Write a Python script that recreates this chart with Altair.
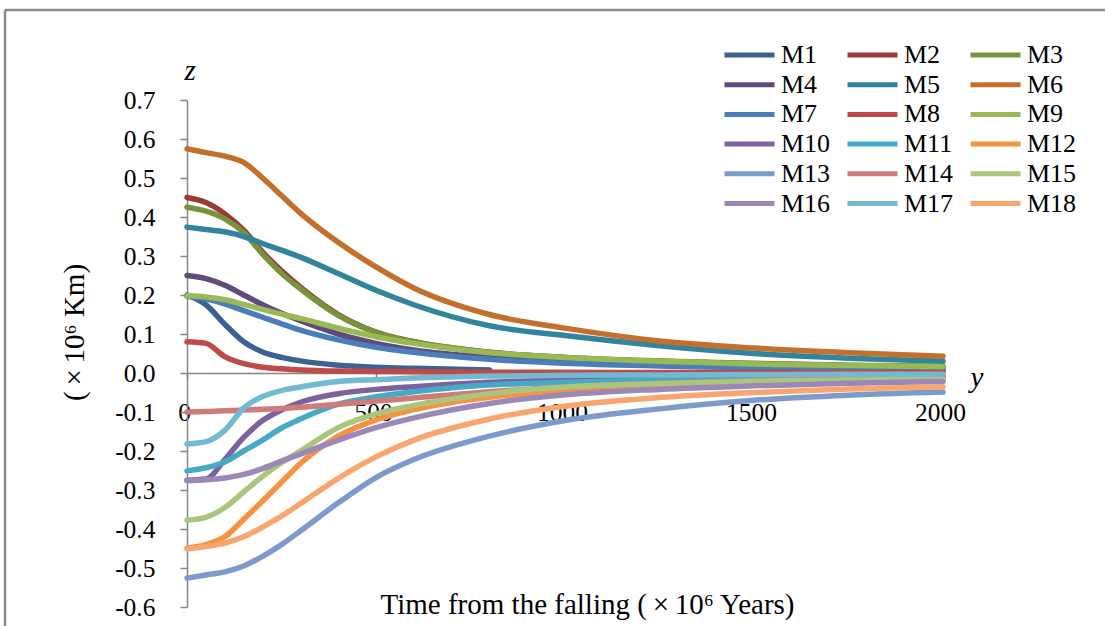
import altair as alt
import pandas as pd

# ---- data ----
X_YEARS = [0, 50, 100, 150, 200, 250, 300, 400, 500, 600, 800, 1000, 1250, 1500, 1750, 2000]

NAMES = ["M1", "M2", "M3", "M4", "M5", "M6", "M7", "M8", "M9",
         "M10", "M11", "M12", "M13", "M14", "M15", "M16", "M17", "M18"]

M1 = [0.200, 0.175, 0.125, 0.080, 0.054, 0.040, 0.031, 0.020, 0.015, 0.012, 0.008, None, None, None, None, None]
M2 = [0.450, 0.437, 0.408, 0.366, 0.310, 0.262, 0.220, 0.150, 0.105, 0.080, 0.053, 0.040, 0.030, 0.024, 0.019, 0.016]
M3 = [0.425, 0.415, 0.395, 0.360, 0.305, 0.256, 0.216, 0.148, 0.104, 0.080, 0.053, 0.040, 0.031, 0.025, 0.020, 0.017]
M4 = [0.250, 0.242, 0.225, 0.200, 0.175, 0.153, 0.134, 0.100, 0.076, 0.059, 0.040, 0.030, 0.022, 0.017, 0.014, 0.012]
M5 = [0.374, 0.368, 0.362, 0.350, 0.332, 0.315, 0.297, 0.255, 0.212, 0.175, 0.121, 0.096, 0.070, 0.050, 0.038, 0.030]
M6 = [0.575, 0.565, 0.556, 0.540, 0.500, 0.455, 0.410, 0.335, 0.272, 0.218, 0.150, 0.115, 0.082, 0.064, 0.052, 0.043]
M7 = [0.197, 0.190, 0.177, 0.160, 0.143, 0.126, 0.110, 0.085, 0.066, 0.053, 0.035, 0.025, 0.018, 0.013, 0.010, 0.008]
M8 = [0.080, 0.076, 0.042, 0.024, 0.015, 0.011, 0.008, 0.005, 0.004, 0.003, 0.002, 0.002, 0.001, 0.001, 0.001, 0.001]
M9 = [0.198, 0.195, 0.188, 0.176, 0.163, 0.151, 0.140, 0.115, 0.093, 0.076, 0.052, 0.040, 0.030, 0.023, 0.019, 0.016]
M10 = [-0.275, -0.272, -0.222, -0.165, -0.122, -0.095, -0.075, -0.053, -0.042, -0.035, -0.024, -0.017, -0.012, -0.009, -0.007, -0.006]
M11 = [-0.251, -0.243, -0.228, -0.200, -0.172, -0.141, -0.118, -0.080, -0.061, -0.048, -0.031, -0.024, -0.018, -0.014, -0.012, -0.010]
M12 = [-0.449, -0.440, -0.420, -0.375, -0.328, -0.280, -0.232, -0.162, -0.120, -0.094, -0.062, -0.047, -0.036, -0.028, -0.022, -0.018]
M13 = [-0.526, -0.518, -0.510, -0.495, -0.470, -0.440, -0.405, -0.333, -0.268, -0.222, -0.162, -0.122, -0.092, -0.070, -0.057, -0.049]
M14 = [-0.100, -0.099, -0.097, -0.095, -0.093, -0.091, -0.088, -0.080, -0.072, -0.064, -0.048, -0.036, -0.026, -0.019, -0.015, -0.012]
M15 = [-0.377, -0.370, -0.345, -0.305, -0.265, -0.230, -0.200, -0.140, -0.105, -0.083, -0.053, -0.036, -0.027, -0.021, -0.018, -0.016]
M16 = [-0.276, -0.274, -0.269, -0.260, -0.245, -0.226, -0.208, -0.172, -0.140, -0.115, -0.078, -0.056, -0.042, -0.033, -0.026, -0.022]
M17 = [-0.182, -0.176, -0.147, -0.090, -0.060, -0.045, -0.036, -0.022, -0.017, -0.013, -0.008, -0.006, -0.005, -0.004, -0.003, -0.003]
M18 = [-0.451, -0.445, -0.436, -0.420, -0.395, -0.367, -0.335, -0.270, -0.215, -0.172, -0.118, -0.085, -0.063, -0.050, -0.041, -0.035]

SERIES = [M1, M2, M3, M4, M5, M6, M7, M8, M9, M10, M11, M12, M13, M14, M15, M16, M17, M18]

COLORS = ["#3C6294", "#983A37", "#77933C", "#604A7B", "#31849B", "#C3702D",
          "#4A7DBA", "#BE4B48", "#98B954", "#7D60A0", "#46AAC5", "#F69240",
          "#7C9BCB", "#CF7B79", "#AAC57D", "#9B88B7", "#73B9D1", "#F8A56F"]

Y_TICKS = [-0.6, -0.5, -0.4, -0.3, -0.2, -0.1, 0.0, 0.1, 0.2, 0.3, 0.4, 0.5, 0.6, 0.7]
X_TICKS = [0, 500, 1000, 1500, 2000]

AXIS_LETTERS = ["z", "y"]
LETTER_X = [8, 2090]
LETTER_Y = [0.752, -0.036]

X_TITLE = "Time from the falling (\u2009×\u200910⁶ Years)"
Y_TITLE = "(\u2009×\u200910⁶ Km)"

# ---- long table ----
rows = []
for name, vals in zip(NAMES, SERIES):
    for xv, yv in zip(X_YEARS, vals):
        if yv is not None:
            rows.append({"series": name, "t": xv, "v": yv})
df = pd.DataFrame(rows)

W, H = 756, 507
FONT = "Liberation Serif"
GRAY = "#868686"
LBL = 25.5
TTL = 29

xscale = alt.Scale(domain=[0, 2000], nice=False)
yscale = alt.Scale(domain=[-0.6, 0.7], nice=False)
cscale = alt.Scale(domain=NAMES, range=COLORS)

x_axis = alt.Axis(
    values=X_TICKS, format="d", grid=False, offset=-234,
    domainColor=GRAY, domainWidth=1.5, tickColor=GRAY, tickWidth=1.5, tickSize=6,
    labelFont=FONT, labelFontSize=LBL, labelColor="black", labelPadding=21, labelOffset=-3,
    labelFlush=False, labelOverlap=False,
    title=X_TITLE, titleFont=FONT, titleFontSize=TTL,
    titleFontWeight="normal", titleColor="black",
    titleX=400, titleY=231, titleAlign="center", titleBaseline="middle", titleAnchor="start",
)
y_axis = alt.Axis(
    values=Y_TICKS, grid=False,
    labelExpr="(datum.value < -0.00001 ? '-' : '') + format(abs(datum.value), '.1f')",
    domainColor=GRAY, domainWidth=1.5, tickColor=GRAY, tickWidth=1.5, tickSize=7,
    labelFont=FONT, labelFontSize=LBL, labelColor="black", labelPadding=25,
    labelFlush=False, labelOverlap=False,
    title=Y_TITLE, titleFont=FONT, titleFontSize=TTL, titleFontWeight="normal",
    titleColor="black", titleX=-113, titleY=232, titleAngle=270,
    titleAlign="center", titleBaseline="middle", titleAnchor="start",
)

legend = alt.Legend(
    title=None, orient="none", legendX=535, legendY=-59.5, columns=3, direction="horizontal",
    symbolType="stroke", symbolSize=2500, symbolStrokeWidth=5,
    labelFont=FONT, labelFontSize=26, labelColor="black", labelOffset=4,
    clipHeight=29, rowPadding=0.7, columnPadding=14, padding=0,
    labelLimit=200,
)

X_ENC = alt.X("t:Q", scale=xscale, axis=x_axis)
Y_ENC = alt.Y("v:Q", scale=yscale, axis=y_axis)

base = alt.Chart(df).mark_line(strokeWidth=5.5, interpolate="monotone", strokeCap="round").encode(
    x=X_ENC,
    y=Y_ENC,
    color=alt.Color("series:N", scale=cscale, legend=legend, sort=NAMES),
)

layers = [base.transform_filter(alt.datum.series == n) for n in NAMES]

letters = alt.Chart(pd.DataFrame({"lab": AXIS_LETTERS, "lx": LETTER_X, "ly": LETTER_Y})).mark_text(
    font=FONT, fontSize=29, fontStyle="italic", color="black", baseline="alphabetic", align="center"
).encode(
    x=alt.X("lx:Q", scale=xscale, axis=x_axis),
    y=alt.Y("ly:Q", scale=yscale, axis=y_axis),
    text="lab:N",
)

border_df = pd.DataFrame({"k": [0]})
top_border = alt.Chart(border_df).mark_rule(color="#8a8a8a", strokeWidth=2.5).encode(
    x=alt.value(-182), x2=alt.value(W + 162), y=alt.value(-90), y2=alt.value(-90))
left_border = alt.Chart(border_df).mark_rule(color="#8a8a8a", strokeWidth=2.5).encode(
    x=alt.value(-182), x2=alt.value(-182), y=alt.value(-90), y2=alt.value(H + 19))

chart = alt.layer(*layers, letters, top_border, left_border).properties(
    width=W, height=H,
    autosize=alt.AutoSizeParams(type="none"),
    padding={"left": 187, "top": 100, "right": 162, "bottom": 19},
    background="white",
).configure_view(stroke=None)

chart.save("out.html", embed_options={"renderer": "svg", "actions": False})
